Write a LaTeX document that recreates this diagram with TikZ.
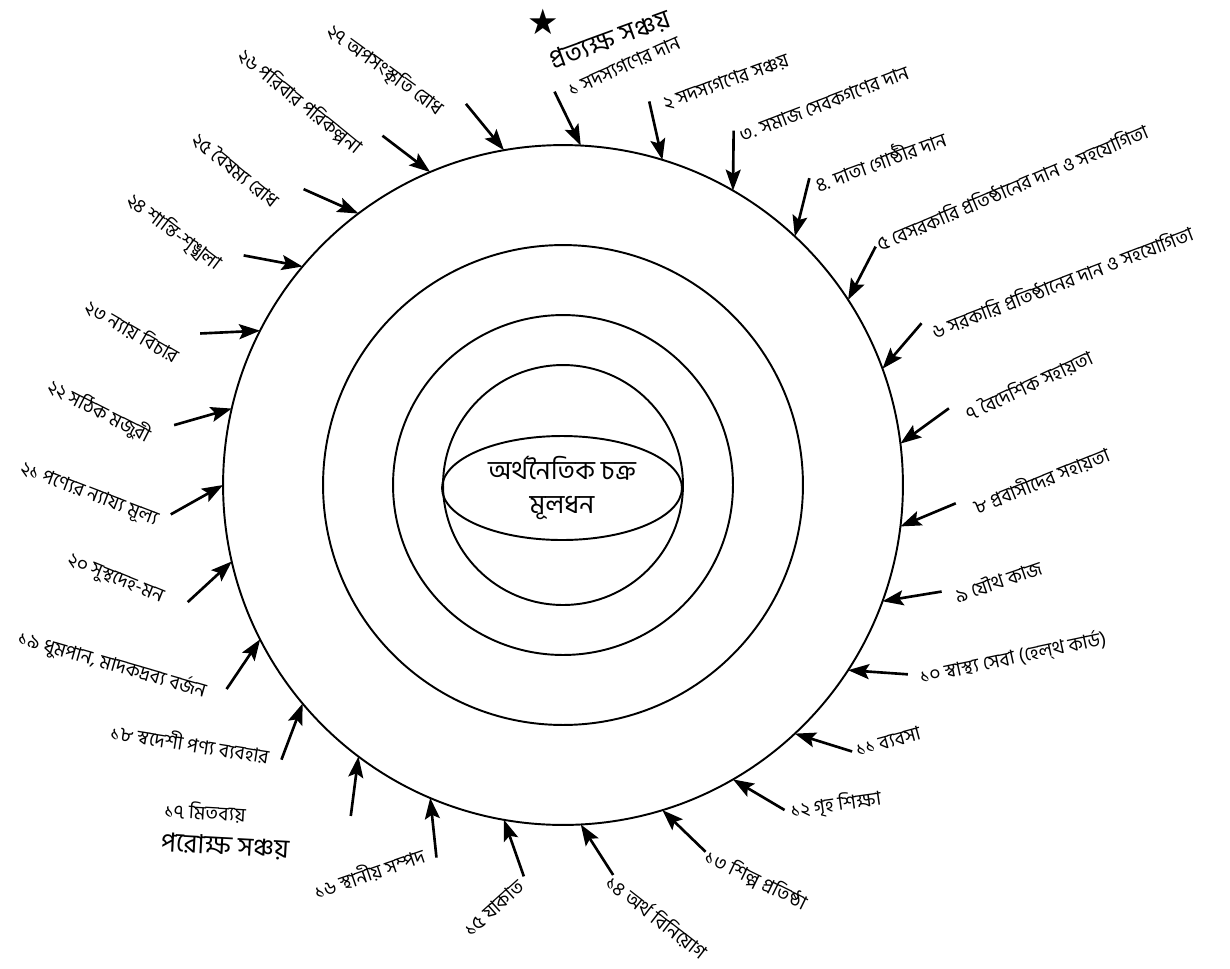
\documentclass[tikz,border=0pt]{standalone}
\usepackage{fontspec}
\newfontfamily\bn[Script=Bengali]{Hind Siliguri}
\newfontfamily\sym{DejaVu Sans}
\usetikzlibrary{arrows.meta, calc, shapes.geometric}

\begin{document}
\begin{tikzpicture}[x=0.02cm, y=-0.02cm,
  >={Stealth[length=4.2mm, width=3mm, inset=0.8mm]},
  ring/.style={draw, circle, line width=1.1pt, inner sep=0pt, outer sep=0pt},
  lbl/.style={font=\bn\fontsize{11}{13}\selectfont, inner sep=0pt},
  big/.style={font=\bn\fontsize{15}{19}\selectfont, inner sep=0pt},
  arr/.style={->, line width=1.5pt}]
\useasboundingbox (0,0) rectangle (1230,968);
% rings
\node[ring, minimum size=13.6cm] (outer)  at (563,485) {};
\node[ring, minimum size=9.6cm]  (second) at (563,485) {};
\node[ring, minimum size=6.8cm]  (third)  at (563,485) {};
\node[ring, minimum size=4.8cm]  (inner)  at (563,485) {};
\node[draw, ellipse, line width=1.1pt, minimum width=4.8cm, minimum height=2.08cm,
      inner sep=0pt, big, align=center] (core) at (562,488) {অর্থনৈতিক চক্র\\মূলধন};
% arrows into the outer ring
\foreach \k in {1,...,27}{
  \pgfmathsetmacro\a{mod(87-13.333*(\k-1)+720,360)}
  \coordinate (h\k) at (outer.\a);
  \coordinate (t\k) at ([shift={(\a+29:1.2cm)}]outer.\a);
  \draw[arr] (t\k) -- (h\k);
}
% direct savings
\node[font=\sym\fontsize{20}{20}\selectfont, inner sep=0pt] (star) at (543,22) {★};
\node[big, rotate=20] (direct) at (610,40) {প্রত্যক্ষ সঞ্চয়};
\node[lbl, rotate=24] (l1)  at (624,66)   {১ সদস্যগণের দান};
\node[lbl, rotate=20] (l2)  at (726,82)   {২ সদস্যগণের সঞ্চয়};
\node[lbl, rotate=21] (l3)  at (824,104)  {৩. সমাজ সেবকগণের দান};
\node[lbl, rotate=20] (l4)  at (880,160)  {৪. দাতা গোষ্ঠীর দান};
\node[lbl, rotate=23] (l5)  at (1012,187) {৫ বেসরকারি প্রতিষ্ঠানের দান ও সহযোগিতা};
\node[lbl, rotate=21] (l6)  at (1062,282) {৬ সরকারি প্রতিষ্ঠানের দান ও সহযোগিতা};
\node[lbl, rotate=25] (l7)  at (1029,385) {৭ বৈদেশিক সহায়তা};
\node[lbl, rotate=22] (l8)  at (1041,480) {৮ প্রবাসীদের সহায়তা};
\node[lbl, rotate=19] (l9)  at (998,581)  {৯ যৌথ কাজ};
\node[lbl, rotate=12] (l10) at (1013,658) {১০ স্বাস্থ্য সেবা (হেল্থ কার্ড)};
\node[lbl, rotate=15] (l11) at (888,741)  {১১ ব্যবসা};
\node[lbl, rotate=8]  (l12) at (836,805)  {১২ গৃহ শিক্ষা};
\node[lbl, rotate=-26] (l13) at (756,880) {১৩ শিল্প প্রতিষ্ঠা};
\node[lbl, rotate=-38] (l14) at (657,917) {১৪ অর্থ বিনিয়োগ};
\node[lbl, rotate=42] (l15) at (494,908)  {১৫ যাকাত};
\node[lbl, rotate=19] (l16) at (369,873)  {১৬ স্থানীয় সম্পদ};
% indirect savings
\node[lbl, rotate=-3] (l17) at (205,812)  {১৭ মিতব্যয়};
\node[big, rotate=-3] (indirect) at (225,846) {পরোক্ষ সঞ্চয়};
\node[lbl, rotate=-9]  (l18) at (190,743) {১৮ স্বদেশী পণ্য ব্যবহার};
\node[lbl, rotate=-16] (l19) at (112,665) {১৯ ধুমপান, মাদকদ্রব্য বর্জন};
\node[lbl, rotate=-22] (l20) at (115,580) {২০ সুস্থদেহ-মন};
\node[lbl, rotate=-21] (l21) at (89,495)  {২১ পণ্যের ন্যায্য মূল্য};
\node[lbl, rotate=-27] (l22) at (99,411)  {২২ সঠিক মজুরী};
\node[lbl, rotate=-30] (l23) at (132,331) {২৩ ন্যায় বিচার};
\node[lbl, rotate=-37] (l24) at (174,232) {২৪ শান্তি-শৃঙ্খলা};
\node[lbl, rotate=-39] (l25) at (236,170) {২৫ বৈষম্য রোধ};
\node[lbl, rotate=-39] (l26) at (300,101) {২৬ পরিবার পরিকল্পনা};
\node[lbl, rotate=-36] (l27) at (385,70)  {২৭ অপসংস্কৃতি রোধ};
\end{tikzpicture}
\end{document}
